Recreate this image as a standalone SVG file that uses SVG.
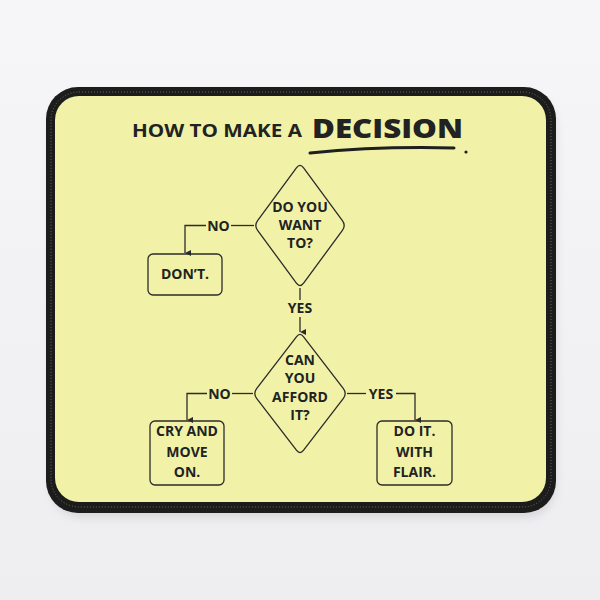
<svg xmlns="http://www.w3.org/2000/svg" width="600" height="600" viewBox="0 0 600 600">
  <defs>
    <linearGradient id="bg" x1="0" y1="0" x2="0" y2="1">
      <stop offset="0" stop-color="#f6f6f8"/>
      <stop offset="1" stop-color="#eeeef1"/>
    </linearGradient>
    <marker id="arr" viewBox="0 0 8 8" refX="4" refY="8" markerWidth="6" markerHeight="6" orient="auto-start-reverse" markerUnits="userSpaceOnUse">
      <path d="M0,0 L8,0 L4,8 Z" fill="#2b2b2b"/>
    </marker>
    <filter id="sh" x="-10%" y="-10%" width="120%" height="130%">
      <feGaussianBlur stdDeviation="4"/>
    </filter>
  </defs>
  <style>
    .t { font-family: "Open Sans", "Liberation Sans", sans-serif; font-weight: 700; fill: #222; text-anchor: middle; }
    .lbl { font-size: 14px; }
    .shape { fill: none; stroke: #2b2b2b; stroke-width: 1.3; }
    .conn { fill: none; stroke: #2b2b2b; stroke-width: 1.3; }
  </style>
  <rect width="600" height="600" fill="url(#bg)"/>
  <!-- mouse pad -->
  <g id="pad">
    <rect x="50" y="94" width="506" height="424" rx="32" fill="#c8c8cc" opacity="0.6" filter="url(#sh)"/>
    <rect x="46" y="87" width="510" height="426" rx="32" fill="#1c1c1c"/>
    <rect x="55" y="96" width="491" height="406" rx="24" fill="#f1f2a7"/>
    <rect x="51" y="92" width="500" height="415" rx="28" fill="none" stroke="#6a6a5a" stroke-width="1" stroke-dasharray="1 2"/>
  </g>
  <!-- title -->
  <g id="title">
    <text class="t" x="132" y="137" font-size="17" text-anchor="start" textLength="170" lengthAdjust="spacingAndGlyphs" style="text-anchor:start">HOW TO MAKE A</text>
    <text class="t" x="312" y="138" font-size="27" font-weight="800" textLength="151" lengthAdjust="spacingAndGlyphs" style="text-anchor:start;font-weight:800">DECISION</text>
    <path d="M310,153 Q380,146 454,148" fill="none" stroke="#1f1f1f" stroke-width="3" stroke-linecap="round"/>
    <circle cx="466" cy="152" r="1.6" fill="#1f1f1f"/>
  </g>
  <!-- connectors -->
  <g id="connectors">
    <path class="conn" d="M254,225.5 L231,225.5"/>
    <path class="conn" d="M206,225.5 L185,225.5 L185,253" marker-end="url(#arr)"/>
    <path class="conn" d="M300,288 L300,300"/>
    <path class="conn" d="M300,317 L300,332" marker-end="url(#arr)"/>
    <path class="conn" d="M253,393.5 L232,393.5"/>
    <path class="conn" d="M207,393.5 L187,393.5 L187,420" marker-end="url(#arr)"/>
    <path class="conn" d="M347,393.5 L366,393.5"/>
    <path class="conn" d="M396,393.5 L415,393.5 L415,420" marker-end="url(#arr)"/>
    <text class="t lbl" x="218.5" y="230.5">NO</text>
    <text class="t lbl" x="300" y="313">YES</text>
    <text class="t lbl" x="219.5" y="398.5">NO</text>
    <text class="t lbl" x="381" y="398.5">YES</text>
  </g>
  <!-- nodes -->
  <g id="q1">
    <path class="shape" d="M296.4,167.8 Q300,163 303.6,167.8 L342.4,220.7 Q346,225.5 342.4,230.3 L303.6,283.2 Q300,288 296.4,283.2 L257.6,230.3 Q254,225.5 257.6,220.7 Z"/>
    <text class="t lbl" x="300" y="212">DO YOU</text>
    <text class="t lbl" x="300" y="230">WANT</text>
    <text class="t lbl" x="300" y="248">TO?</text>
  </g>
  <g id="dont">
    <rect class="shape" x="148" y="254" width="74" height="41" rx="5"/>
    <text class="t lbl" x="185" y="279">DON’T.</text>
  </g>
  <g id="q2">
    <path class="shape" d="M296.4,336.8 Q300,332 303.6,336.8 L343.4,388.7 Q347,393.5 343.4,398.3 L303.6,450.2 Q300,455 296.4,450.2 L256.6,398.3 Q253,393.5 256.6,388.7 Z"/>
    <text class="t lbl" x="300" y="365">CAN</text>
    <text class="t lbl" x="300" y="383">YOU</text>
    <text class="t lbl" x="300" y="402">AFFORD</text>
    <text class="t lbl" x="300" y="420">IT?</text>
  </g>
  <g id="cry">
    <rect class="shape" x="150" y="421" width="74" height="64" rx="5"/>
    <text class="t lbl" x="187" y="436">CRY AND</text>
    <text class="t lbl" x="187" y="457">MOVE</text>
    <text class="t lbl" x="187" y="477">ON.</text>
  </g>
  <g id="doit">
    <rect class="shape" x="377" y="421" width="75" height="64" rx="5"/>
    <text class="t lbl" x="414.5" y="436">DO IT.</text>
    <text class="t lbl" x="414.5" y="457">WITH</text>
    <text class="t lbl" x="414.5" y="477">FLAIR.</text>
  </g>
</svg>
